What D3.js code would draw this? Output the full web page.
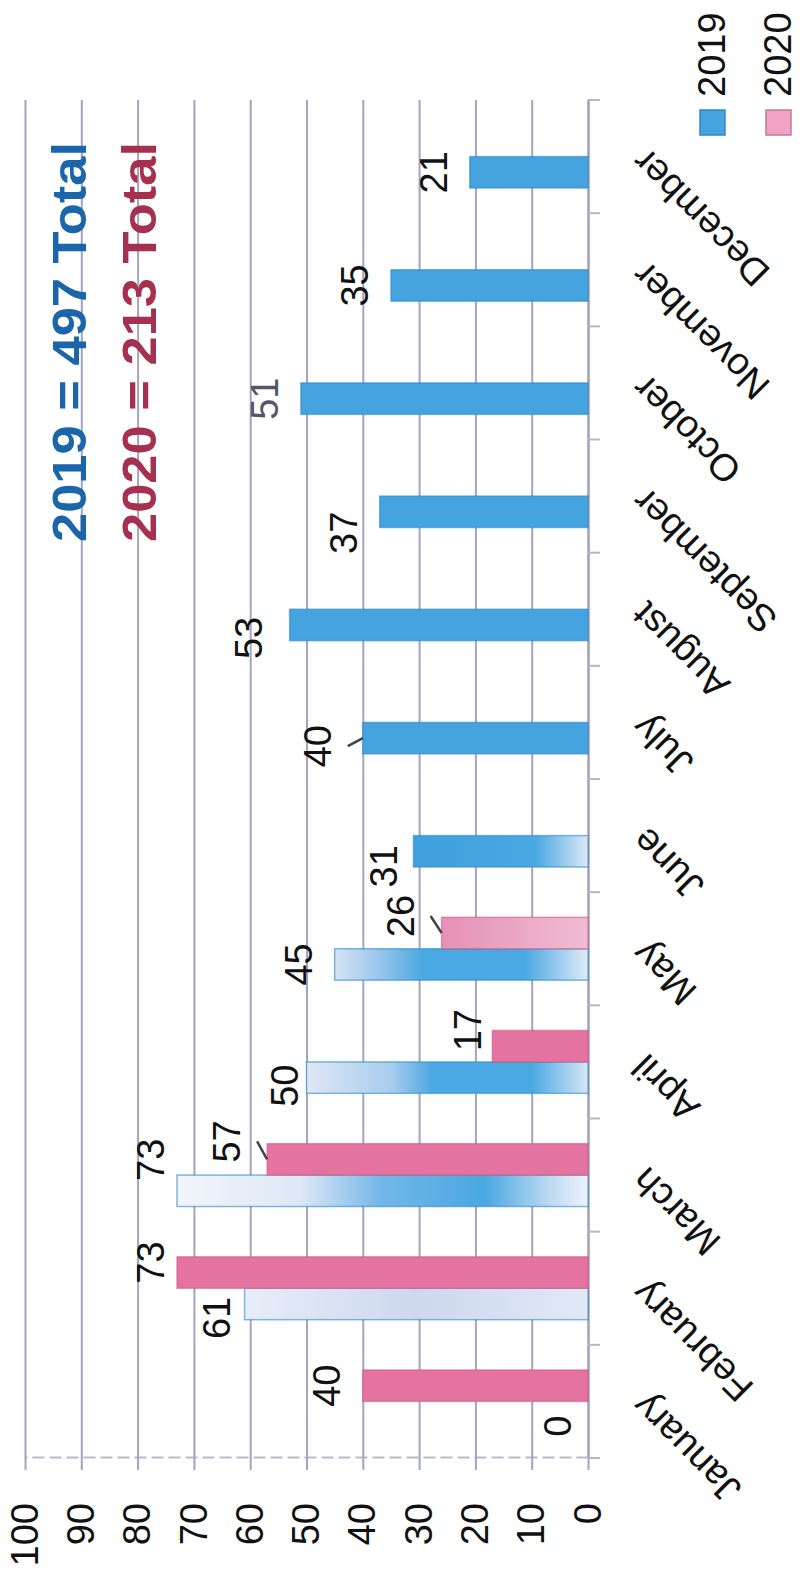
<!DOCTYPE html>
<html>
<head>
<meta charset="utf-8">
<script src="https://cdn.jsdelivr.net/npm/d3@7"></script>
<style>
  body { margin: 0; background: #fff; }
  svg { display: block; font-family: "Liberation Sans", Arial, sans-serif; }
</style>
</head>
<body>
<svg id="stage" width="802" height="1574"></svg>
<script>
var months = ['January', 'February', 'March', 'April', 'May', 'June',
              'July', 'August', 'September', 'October', 'November', 'December'];
var years = ['2019', '2020'];
var values2019 = [0, 61, 73, 50, 45, 31, 40, 53, 37, 51, 35, 21];
var values2020 = [40, 73, 57, 17, 26, null, null, null, null, null, null, null];
var valueTicks = [0, 10, 20, 30, 40, 50, 60, 70, 80, 90, 100];
var titles = ['2019 = 497 Total', '2020 = 213 Total'];

// the chart is laid out upright (1574 wide, 802 high) and then turned a quarter left
var svg = d3.select('#stage'),
    WIDTH = 1574,
    LEFT = 116,
    RIGHT = 1474,
    TOP = 25,
    BASE = 588,
    FONT = 38;

var colors = { '2019': '#45a4df', '2020': '#e5739f' },
    edges = { '2019': '#2f88c8', '2020': '#cf5a88' },
    titleColors = ['#1b66aa', '#a5304f'];

// faded patches of the scanned bars, tip -> base
var fades = {
  '2019-February': [[0, '#e8edf7'], [0.5, '#cdd8ee'], [1, '#e2e9f5']],
  '2019-March': [[0, '#f2f5fb'], [0.3, '#dde7f5'], [0.5, '#72b6e7'], [0.75, '#4aa8e2'], [0.9, '#b8d8f1'], [1, '#eef3fa']],
  '2019-April': [[0, '#dfe7f5'], [0.3, '#a9cdee'], [0.45, '#4aa8e2'], [0.8, '#4aa8e2'], [1, '#d6e6f6']],
  '2019-May': [[0, '#d8e3f4'], [0.2, '#8fc2ea'], [0.35, '#4aa8e2'], [0.75, '#4aa8e2'], [1, '#e0ecf8']],
  '2019-June': [[0, '#3fa0de'], [0.7, '#4aa8e2'], [1, '#dbe9f7']],
  '2020-May': [[0, '#e591b5'], [1, '#f0bcd2']]
};

// hand-moved data labels [along, across] in upright pixels
var labelNudge = {
  '2019-January': [-9, 6], '2019-February': [-14, 8], '2020-February': [10, 10],
  '2019-March': [31, 10], '2020-March': [18, -4], '2019-April': [-8, 14],
  '2020-April': [16, 12], '2020-May': [17, -5], '2019-June': [-15, 7],
  '2019-July': [-8, -9], '2019-August': [-13, -5], '2019-September': [-21, 0]
};
var leaders = ['2020-March', '2020-May', '2019-July'];

var x0 = d3.scaleBand().domain(months).range([LEFT, RIGHT]),
    x1 = d3.scaleBand().domain(years).range([0, x0.bandwidth()]).paddingOuter(0.8),
    y = d3.scaleLinear().domain([0, 100]).range([BASE, TOP]);

var bars = [];
months.forEach(function (m, i) {
  [values2019[i], values2020[i]].forEach(function (v, j) {
    if (v !== null) bars.push({ month: m, year: years[j], value: v, key: years[j] + '-' + m });
  });
});

var chart = svg.append('g')
  .attr('transform', 'translate(0,' + WIDTH + ') rotate(-90)');

var defs = svg.append('defs');
bars.forEach(function (d, i) {
  if (!fades[d.key]) return;
  var g = defs.append('linearGradient')
    .attr('id', 'fade' + i)
    .attr('x1', 0).attr('y1', 0).attr('x2', 0).attr('y2', 1);
  fades[d.key].forEach(function (s) {
    g.append('stop').attr('offset', s[0]).attr('stop-color', s[1]);
  });
  d.fill = 'url(#fade' + i + ')';
});

// value axis with gridlines
var yAxis = chart.append('g')
  .attr('transform', 'translate(' + LEFT + ',0)')
  .call(d3.axisLeft(y).tickValues(valueTicks).tickSizeInner(-(RIGHT - LEFT)).tickSizeOuter(0).tickPadding(45));

yAxis.select('.domain')
  .attr('stroke', '#b9b9c9')
  .attr('stroke-width', 2)
  .attr('stroke-dasharray', '12,5');
yAxis.selectAll('.tick line')
  .attr('x1', -12)
  .attr('stroke', '#a3a3c2')
  .attr('stroke-width', 2);
yAxis.selectAll('.tick text')
  .attr('fill', '#111')
  .style('font-size', FONT + 'px');

// category axis
var xAxis = chart.append('g')
  .attr('transform', 'translate(0,' + BASE + ')')
  .call(d3.axisBottom(x0).tickSize(0).tickPadding(0));

xAxis.select('.domain')
  .attr('stroke', '#9d9dbf')
  .attr('stroke-width', 2);
xAxis.selectAll('.tick text')
  .attr('y', 0)
  .attr('dy', 0)
  .attr('transform', 'translate(10,60) rotate(-45)')
  .attr('fill', '#111')
  .style('text-anchor', 'end')
  .style('font-size', FONT + 'px');

chart.append('g').selectAll('line')
  .data(months.map(function (m) { return x0(m); }).concat([RIGHT]))
  .enter()
  .append('line')
  .attr('x1', function (d) { return d; })
  .attr('x2', function (d) { return d; })
  .attr('y1', BASE)
  .attr('y2', BASE + 12)
  .attr('stroke', '#b5b5cc')
  .attr('stroke-width', 2);

// bars
chart.append('g').selectAll('rect')
  .data(bars)
  .enter()
  .append('rect')
  .attr('x', function (d) { return x0(d.month) + x1(d.year); })
  .attr('y', function (d) { return y(d.value); })
  .attr('width', x1.bandwidth())
  .attr('height', function (d) { return y(0) - y(d.value); })
  .attr('fill', function (d) { return d.fill || colors[d.year]; })
  .attr('stroke', function (d) { return edges[d.year]; })
  .attr('stroke-opacity', 0.6)
  .attr('stroke-width', 1.5);

// data labels
function labelX(d) {
  var n = labelNudge[d.key] || [0, 0];
  return x0(d.month) + x1(d.year) + x1.bandwidth() / 2 + n[0];
}
function labelY(d) {
  var n = labelNudge[d.key] || [0, 0];
  return y(d.value) - 23 + n[1];
}

chart.append('g').selectAll('line')
  .data(bars.filter(function (d) { return leaders.indexOf(d.key) >= 0; }))
  .enter()
  .append('line')
  .attr('x1', labelX)
  .attr('y1', function (d) { return labelY(d) + 17; })
  .attr('x2', function (d) { return x0(d.month) + x1(d.year) + x1.bandwidth() / 2; })
  .attr('y2', function (d) { return y(d.value); })
  .attr('stroke', '#444')
  .attr('stroke-width', 2.5);

chart.append('g').selectAll('text')
  .data(bars)
  .enter()
  .append('text')
  .text(function (d) { return d.value; })
  .attr('x', labelX)
  .attr('y', labelY)
  .attr('text-anchor', 'middle')
  .attr('fill', function (d) { return d.key === '2019-October' ? '#55556a' : '#111'; })
  .style('font-size', FONT + 'px');

// totals
chart.append('g').selectAll('text')
  .data(titles)
  .enter()
  .append('text')
  .text(function (d) { return d; })
  .attr('x', 1032)
  .attr('y', function (d, i) { return 86 + i * 70; })
  .attr('textLength', 400)
  .attr('lengthAdjust', 'spacingAndGlyphs')
  .attr('fill', function (d, i) { return titleColors[i]; })
  .style('font-weight', 'bold')
  .style('font-size', '48px');

// legend
var legend = chart.append('g').selectAll('g')
  .data(years)
  .enter()
  .append('g')
  .attr('transform', function (d, i) { return 'translate(1439,' + (700 + i * 66) + ')'; });

legend.append('rect')
  .attr('width', 25)
  .attr('height', 25)
  .attr('fill', function (d, i) { return i ? '#f2a3c4' : '#45a4df'; })
  .attr('stroke', function (d, i) { return i ? '#c27a98' : '#2f88c8'; })
  .attr('stroke-width', 1.5);

legend.append('text')
  .text(function (d) { return d; })
  .attr('x', 38)
  .attr('y', 25)
  .attr('fill', '#111')
  .style('font-size', FONT + 'px');
</script>
</body>
</html>
